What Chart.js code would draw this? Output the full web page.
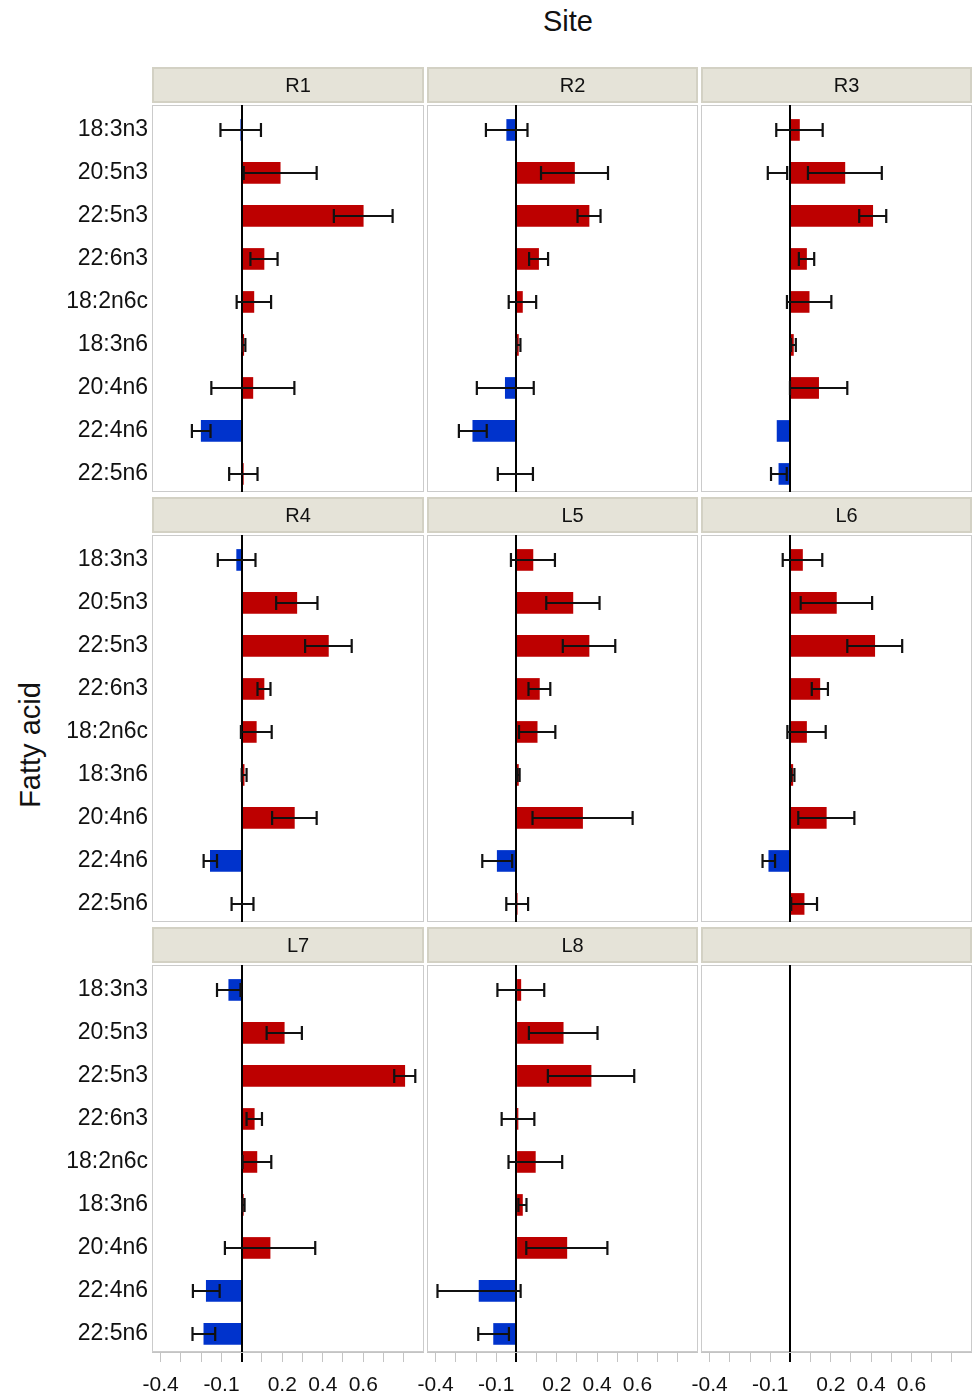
<!DOCTYPE html>
<html>
<head>
<meta charset="utf-8">
<script src="https://cdn.jsdelivr.net/npm/chart.js@4"></script>
<style>
  html, body { margin: 0; padding: 0; background: #fff; }
  #fig { position: relative; width: 975px; height: 1397px; overflow: hidden;
         font-family: 'Liberation Sans', Arial, Helvetica, sans-serif; color: #111; }
  #fig canvas { position: absolute; }
  #siteTitle { position: absolute; left: 468px; width: 200px; top: 5px; line-height: 33px;
               text-align: center; font-size: 29px; }
  #faTitle { position: absolute; left: 30px; top: 745px; font-size: 29px; white-space: nowrap;
             transform: translate(-50%, -50%) rotate(-90deg); }
</style>
</head>
<body>
<div id="fig">
  <div id="siteTitle">Site</div>
  <div id="faTitle">Fatty acid</div>
</div>
<script>
// Fatty acids (rows of every panel, top to bottom)
const acids = ['18:3n3', '20:5n3', '22:5n3', '22:6n3', '18:2n6c', '18:3n6', '20:4n6', '22:4n6', '22:5n6'];

// Sites (panels, left to right, top to bottom)
const sites = ['R1', 'R2', 'R3', 'R4', 'L5', 'L6', 'L7', 'L8'];

// Mean effect per fatty acid and its error half-width, one pair per site
const meanR1 = [-0.005, 0.19, 0.60, 0.11, 0.06, 0.01, 0.055, -0.20, 0.008];
const errR1  = [0.100, 0.18, 0.145, 0.067, 0.085, 0.008, 0.205, 0.046, 0.070];

const meanR2 = [-0.048, 0.288, 0.36, 0.11, 0.03, 0.01, -0.055, -0.216, -0.005];
const errR2  = [0.103, 0.166, 0.057, 0.047, 0.068, 0.010, 0.141, 0.069, 0.087];

const meanR3 = [0.045, 0.27, 0.408, 0.08, 0.093, 0.015, 0.14, -0.066, -0.057];
const errR3  = [0.115, 0.183, 0.067, 0.038, 0.110, 0.012, 0.142, 0, 0.039];

const meanR4 = [-0.025, 0.272, 0.428, 0.11, 0.072, 0.012, 0.26, -0.155, 0.004];
const errR4  = [0.093, 0.102, 0.115, 0.032, 0.076, 0.012, 0.110, 0.033, 0.054];

const meanL5 = [0.082, 0.28, 0.36, 0.114, 0.103, 0.01, 0.328, -0.095, 0.004];
const errL5  = [0.109, 0.132, 0.130, 0.054, 0.090, 0.006, 0.248, 0.074, 0.054];

const meanL6 = [0.06, 0.228, 0.418, 0.146, 0.08, 0.012, 0.178, -0.107, 0.068];
const errL6  = [0.098, 0.177, 0.136, 0.040, 0.095, 0.008, 0.139, 0.031, 0.064];

const meanL7 = [-0.064, 0.21, 0.805, 0.062, 0.075, 0.008, 0.14, -0.175, -0.187];
const errL7  = [0.058, 0.087, 0.052, 0.038, 0.071, 0.006, 0.223, 0.066, 0.056];

const meanL8 = [0.022, 0.232, 0.37, 0.008, 0.094, 0.03, 0.25, -0.185, -0.113];
const errL8  = [0.116, 0.170, 0.214, 0.081, 0.133, 0.020, 0.201, 0.206, 0.076];

// Additional interval drawn in the R3 panel: [site, acid, low, high]
const extraIntervals = [['R3', '20:5n3', -0.112, -0.016]];

// X axis ticks and the subset that carries a label
const xTickValues = [-0.4, -0.3, -0.2, -0.1, 0, 0.1, 0.2, 0.3, 0.4, 0.5, 0.6, 0.7, 0.8];
const xTickLabels = ['-0.4', '-0.1', '0.2', '0.4', '0.6'];

const siteMeans = { R1: meanR1, R2: meanR2, R3: meanR3, R4: meanR4, L5: meanL5, L6: meanL6, L7: meanL7, L8: meanL8 };
const siteErrs  = { R1: errR1,  R2: errR2,  R3: errR3,  R4: errR4,  L5: errL5,  L6: errL6,  L7: errL7,  L8: errL8 };

// ---- layout of the 3 x 3 facet grid ----
const RED = '#bd0000', BLUE = '#0033cc';
const colLefts = [0, 427, 701];      // left edge of each canvas's plot column
const colWidths = [424, 271, 271];
const overhang = [0, 16, 16];        // room for tick labels spilling past the plot's left edge
const rowTops = [67, 497, 927];
const stripH = 36, stripBand = 38, plotH = 387, axisH = 45, yLabelW = 152;
const xMin = -0.443, xMax = 0.90;

Chart.defaults.font.family = "'Liberation Sans', Arial, Helvetica, sans-serif";
Chart.defaults.color = '#111';

// Facet strip above the plot and the light frame round it
function stripPlugin(title) {
  return {
    id: 'strip',
    beforeDraw(chart) {
      const { ctx, chartArea: a } = chart;
      ctx.save();
      ctx.fillStyle = '#e5e3d8';
      ctx.fillRect(a.left, 0, a.right - a.left, stripH);
      ctx.strokeStyle = '#d3d1c4';
      ctx.lineWidth = 2;
      ctx.strokeRect(a.left + 1, 1, a.right - a.left - 2, stripH - 2);
      if (title) {
        ctx.fillStyle = '#111';
        ctx.font = "20px 'Liberation Sans', Arial, sans-serif";
        ctx.textAlign = 'center';
        ctx.textBaseline = 'middle';
        ctx.fillText(title, (a.left + a.right) / 2 + 10, stripH / 2 + 1);
      }
      ctx.strokeStyle = '#cbcbcb';
      ctx.lineWidth = 1;
      ctx.strokeRect(a.left + 0.5, a.top + 0.5, a.right - a.left - 1, a.bottom - a.top - 1);
      ctx.restore();
    }
  };
}

// Zero reference line and error bars with caps
function errorPlugin(intervals) {
  return {
    id: 'errorBars',
    afterDatasetsDraw(chart) {
      const { ctx, chartArea: a, scales: { x, y } } = chart;
      ctx.save();
      const x0 = Math.round(x.getPixelForValue(0));
      ctx.strokeStyle = '#000';
      ctx.lineWidth = 2;
      ctx.beginPath();
      ctx.moveTo(x0, a.top);
      ctx.lineTo(x0, a.bottom);
      ctx.stroke();
      ctx.strokeStyle = '#111';
      ctx.lineWidth = 2.2;
      const cap = 7;
      intervals.forEach(([i, lo, hi]) => {
        const yy = Math.round(y.getPixelForValue(i));
        const x1 = x.getPixelForValue(lo), x2 = x.getPixelForValue(hi);
        ctx.beginPath();
        ctx.moveTo(x1, yy); ctx.lineTo(x2, yy);
        ctx.moveTo(x1, yy - cap); ctx.lineTo(x1, yy + cap);
        ctx.moveTo(x2, yy - cap); ctx.lineTo(x2, yy + cap);
        ctx.stroke();
      });
      ctx.restore();
    }
  };
}

const fig = document.getElementById('fig');
const panelNames = sites.concat(['']);

panelNames.forEach((name, p) => {
  const row = Math.floor(p / 3), col = p % 3;
  const showX = row === 2, showY = col === 0;
  const canvas = document.createElement('canvas');
  canvas.width = colWidths[col] + overhang[col];
  canvas.height = stripBand + plotH + (showX ? axisH : 0);
  canvas.style.left = (colLefts[col] - overhang[col]) + 'px';
  canvas.style.top = rowTops[row] + 'px';
  fig.appendChild(canvas);

  const mean = siteMeans[name] || [];
  const err = siteErrs[name] || [];
  const intervals = [];
  mean.forEach((v, i) => { if (err[i] > 0) intervals.push([i, v - err[i], v + err[i]]); });
  extraIntervals.filter(e => e[0] === name)
    .forEach(e => intervals.push([acids.indexOf(e[1]), e[2], e[3]]));

  new Chart(canvas, {
    type: 'bar',
    data: {
      datasets: [{
        data: mean.map((v, i) => ({ x: v, y: i })),
        backgroundColor: mean.map(v => (v < 0 ? BLUE : RED)),
        borderWidth: 0,
        barThickness: 21
      }]
    },
    options: {
      indexAxis: 'y',
      responsive: false,
      animation: false,
      events: [],
      layout: { padding: { top: stripBand, left: overhang[col], right: 0, bottom: 0 } },
      plugins: { legend: { display: false }, tooltip: { enabled: false } },
      scales: {
        x: {
          type: 'linear',
          min: xMin,
          max: xMax,
          offset: false,
          display: showX,
          afterBuildTicks: ax => { ax.ticks = xTickValues.map(v => ({ value: v })); },
          afterFit: ax => {
            ax.height = showX ? axisH : 0;
            ax.paddingLeft = 0; ax.paddingRight = 0;
          },
          grid: {
            offset: false,
            drawOnChartArea: false,
            drawTicks: true,
            tickLength: 10,
            tickColor: c => (c.tick && Math.abs(c.tick.value) < 1e-9 ? '#000' : '#c4c4c4'),
            lineWidth: c => (c.tick && Math.abs(c.tick.value) < 1e-9 ? 2 : 1)
          },
          border: { display: true, color: '#c4c4c4', width: 1 },
          ticks: {
            autoSkip: false,
            maxRotation: 0,
            padding: 11,
            font: { size: 21 },
            color: '#111',
            callback: v => xTickLabels.find(t => Math.abs(parseFloat(t) - v) < 1e-9) || ''
          }
        },
        y: {
          type: 'linear',
          reverse: true,
          min: -0.58,
          max: 8.42,
          offset: false,
          display: showY,
          afterBuildTicks: ax => { ax.ticks = acids.map((a, i) => ({ value: i })); },
          afterFit: ax => {
            ax.width = showY ? yLabelW : 0;
            ax.paddingTop = 0; ax.paddingBottom = 0;
          },
          grid: { display: false, drawTicks: false, offset: false },
          border: { display: false },
          ticks: {
            padding: 4,
            font: { size: 23 },
            color: '#111',
            callback: v => acids[v] || ''
          }
        }
      }
    },
    plugins: [stripPlugin(name), errorPlugin(intervals)]
  });
});
</script>
</body>
</html>
